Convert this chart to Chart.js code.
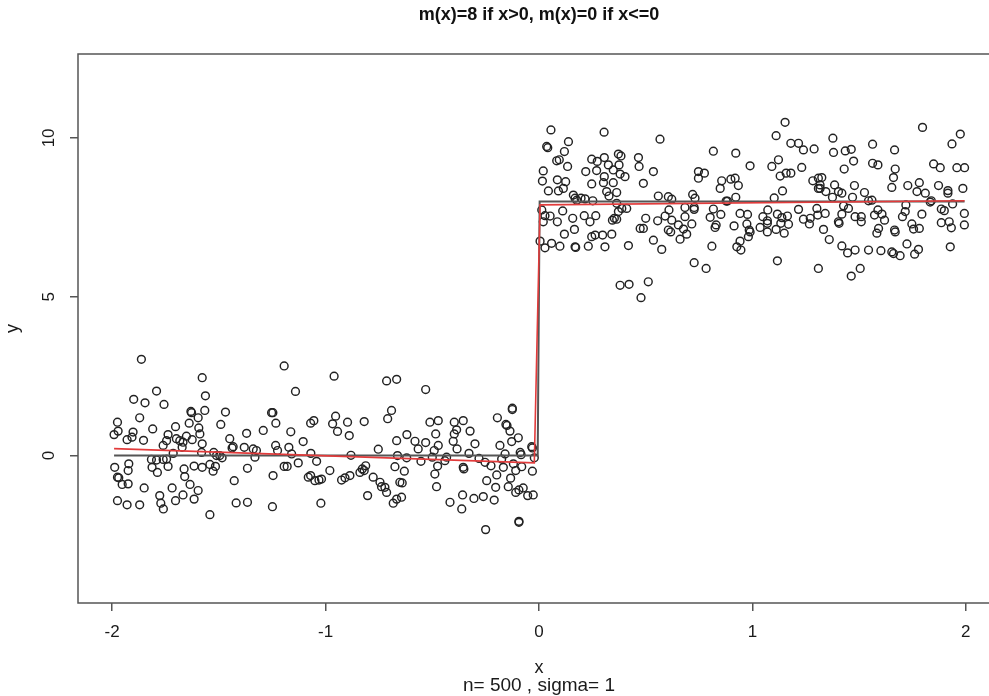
<!DOCTYPE html>
<html><head><meta charset="utf-8">
<script src="https://cdn.jsdelivr.net/npm/chart.js@4.4.1/dist/chart.umd.min.js"></script>
<style>
html,body{margin:0;padding:0;background:#fff;overflow:hidden;width:989px;height:696px}
#wrap{position:absolute;left:0;top:0;width:1078px;height:696px}
canvas{display:block}
</style>
</head><body><div id="wrap"><canvas id="c" width="1078" height="696" style="width:1078px;height:696px"></canvas></div>
<script>
// ---- data ----
const chartTitle = 'm(x)=8 if x>0, m(x)=0 if x<=0';
const xTitle = 'x';
const subTitle = 'n= 500 , sigma= 1';
const yTitle = 'y';
const xTicks = [-2, -1, 0, 1, 2];
const yTicks = [0, 5, 10];

// x <= 0 : band 1 (x about -2 .. -1.35)
const xBand1 = [-1.863,-1.578,-1.792,-1.899,-1.846,-1.757,-1.563,-1.631,-1.628,-1.566,
 -1.469,-1.597,-1.871,-1.975,-1.491,-1.639,-1.703,-1.810,-1.594,-1.972,
 -1.991,-1.902,-1.907,-1.930,-1.853,-1.738,-1.699,-1.652,-1.589,-1.625,
 -1.683,-1.745,-1.761,-1.668,-1.672,-1.578,-1.449,-1.433,-1.438,-1.370,
 -1.381,-1.714,-1.581,-1.524,-1.511,-1.496,-1.485,-1.816,-1.792,-1.761,
 -1.745,-1.813,-1.788,-1.738,-1.988,-1.922,-1.925,-1.975,-1.969,-1.953,
 -1.925,-1.663,-1.660,-1.616,-1.578,-1.542,-1.516,-1.527,-1.428,-1.366,
 -1.635,-1.597,-1.850,-1.719,-1.777,-1.668,-1.703,-1.616,-1.975,-1.930,
 -1.871,-1.772,-1.760,-1.542,-1.419,-1.366];
const yBand1 = [3.03,2.45,2.03,1.77,1.66,1.61,1.88,1.39,1.35,1.42,
 1.37,1.19,1.19,1.05,0.98,1.02,0.91,0.84,0.87,0.77,
 0.66,0.74,0.58,0.50,0.48,0.66,0.53,0.61,0.68,0.50,
 0.47,0.47,0.32,0.42,0.26,0.37,0.53,0.28,0.24,0.70,
 0.26,0.07,0.10,0.10,0.00,0.00,-0.07,-0.12,-0.14,-0.12,
 -0.11,-0.37,-0.53,-0.34,-0.37,-0.26,-0.47,-0.68,-0.70,-0.91,
 -0.89,-0.42,-0.66,-0.33,-0.37,-0.28,-0.34,-0.49,-0.79,-0.40,
 -0.91,-1.10,-1.02,-1.02,-1.26,-1.24,-1.42,-1.37,-1.42,-1.55,
 -1.55,-1.50,-1.68,-1.86,-1.49,-1.47];

// band 2 (x about -1.35 .. -0.65)
const xBand2 = [-1.194,-0.960,-1.141,-0.714,-0.667,-1.253,-1.247,-1.233,-1.070,-1.055,
 -0.953,-0.967,-0.897,-0.819,-0.691,-0.709,-0.944,-0.889,-1.292,-1.163,
 -1.105,-1.234,-1.225,-1.172,-1.159,-1.339,-1.324,-1.331,-1.069,-0.881,
 -0.753,-0.667,-0.663,-1.042,-1.128,-1.194,-1.180,-1.246,-1.081,-1.070,
 -1.050,-1.031,-1.019,-0.980,-0.925,-0.909,-0.886,-0.839,-0.828,-0.812,
 -0.819,-0.777,-0.745,-0.738,-0.722,-0.714,-0.675,-0.652,-0.803,-1.249,
 -1.022,-0.683,-0.667];
const yBand2 = [2.82,2.50,2.02,2.35,2.40,1.35,1.35,1.02,1.02,1.10,
 1.24,1.00,1.05,1.07,1.42,1.16,0.76,0.63,0.79,0.75,
 0.44,0.32,0.16,0.26,0.05,0.21,0.16,-0.05,0.07,0.01,
 0.20,0.47,0.00,-0.18,-0.23,-0.34,-0.34,-0.63,-0.68,-0.63,
 -0.79,-0.77,-0.74,-0.47,-0.77,-0.70,-0.63,-0.53,-0.42,-0.32,
 -0.47,-0.68,-0.84,-0.98,-1.00,-1.16,-0.35,-0.84,-1.26,-1.61,
 -1.50,-1.50,-1.37];

// band 3 (x about -0.65 .. 0)
const xBand3 = [-0.531,-0.125,-0.125,-0.511,-0.472,-0.397,-0.355,-0.386,-0.397,-0.323,
 -0.195,-0.155,-0.150,-0.136,-0.097,-0.128,-0.619,-0.581,-0.531,-0.566,
 -0.484,-0.472,-0.491,-0.402,-0.384,-0.300,-0.328,-0.183,-0.159,-0.175,
 -0.088,-0.084,-0.034,-0.031,-0.022,-0.620,-0.500,-0.433,-0.441,-0.553,
 -0.281,-0.253,-0.225,-0.167,-0.120,-0.081,-0.631,-0.475,-0.355,-0.352,
 -0.198,-0.488,-0.109,-0.031,-0.641,-0.480,-0.245,-0.203,-0.133,-0.144,
 -0.109,-0.094,-0.074,-0.053,-0.027,-0.644,-0.417,-0.358,-0.362,-0.305,
 -0.261,-0.210,-0.250,-0.094,-0.094];
const yBand3 = [2.08,1.49,1.45,1.05,1.10,1.05,1.10,0.81,0.68,0.77,
 1.19,0.98,0.95,0.77,0.56,0.44,0.66,0.45,0.41,0.21,
 0.68,0.32,0.16,0.45,0.21,0.37,0.07,0.32,0.05,-0.11,
 0.10,0.03,0.28,0.24,-0.07,-0.07,-0.05,-0.05,-0.16,-0.18,
 -0.09,-0.21,-0.32,-0.37,-0.26,-0.35,-0.49,-0.33,-0.37,-0.42,
 -0.61,-0.58,-0.47,-0.49,-0.86,-0.98,-0.79,-1.00,-0.71,-0.98,
 -1.16,-1.08,-1.02,-1.26,-1.24,-1.31,-1.47,-1.24,-1.68,-1.35,
 -1.29,-1.40,-2.33,-2.07,-2.10];

// x > 0 : band 4 (x about 0 .. 0.63)
const xBand4 = [0.056,0.305,0.567,0.138,0.036,0.041,0.119,0.083,0.095,0.134,
 0.020,0.016,0.086,0.125,0.044,0.091,0.114,0.161,0.169,0.197,
 0.216,0.177,0.252,0.219,0.247,0.270,0.273,0.306,0.325,0.348,
 0.372,0.384,0.375,0.380,0.403,0.306,0.302,0.348,0.247,0.317,
 0.364,0.328,0.466,0.469,0.536,0.489,0.559,0.606,0.622,0.364,
 0.388,0.411,0.372,0.013,0.028,0.020,0.052,0.111,0.086,0.158,
 0.212,0.266,0.239,0.353,0.364,0.344,0.500,0.556,0.591,0.609,
 0.622,0.166,0.119,0.474,0.489,0.606,0.617,0.247,0.263,0.298,
 0.341,0.005,0.028,0.059,0.098,0.169,0.172,0.231,0.309,0.419,
 0.536,0.575,0.380,0.422,0.512,0.478];
const yBand4 = [10.25,10.18,9.96,9.88,9.73,9.69,9.57,9.28,9.31,9.10,
 8.96,8.64,8.68,8.62,8.33,8.33,8.41,8.20,8.10,8.10,
 8.08,8.04,8.02,8.94,9.33,8.97,9.26,9.38,9.15,8.99,
 9.49,9.43,9.15,8.86,8.78,8.78,8.59,8.59,8.55,8.31,
 8.28,8.17,9.38,9.10,8.94,8.57,8.17,8.15,8.07,7.94,
 7.78,7.78,7.68,7.73,7.55,7.36,7.54,7.70,7.36,7.47,
 7.55,7.55,7.36,7.47,7.44,7.41,7.47,7.39,7.54,7.73,
 7.41,7.12,6.97,7.15,7.15,7.10,7.04,6.89,6.94,6.94,
 6.97,6.75,6.54,6.68,6.59,6.57,6.55,6.59,6.57,6.61,
 6.78,6.49,5.36,5.39,5.47,4.97];

// band 5 (x about 0.63 .. 1.31)
const xBand5 = [1.153,1.111,1.180,1.216,1.239,1.289,0.817,0.922,0.989,1.091,
 1.122,0.747,0.775,0.747,0.856,0.849,0.899,0.919,0.934,0.922,
 1.130,1.158,1.180,1.231,1.283,1.309,1.309,1.141,1.102,0.720,
 0.731,0.877,0.883,0.684,0.727,0.727,0.817,0.653,0.677,0.692,
 0.661,0.684,0.716,0.802,0.852,0.830,0.825,0.942,0.977,0.914,
 0.974,0.985,0.989,0.981,0.942,0.927,0.946,1.036,1.049,1.072,
 1.070,1.070,1.070,1.111,1.117,1.138,1.164,1.133,1.149,1.169,
 1.216,1.239,1.271,1.267,1.302,0.810,0.727,0.783,1.117,1.309];
const yBand5 = [10.49,10.07,9.83,9.83,9.62,9.65,9.58,9.52,9.12,9.10,
 9.31,8.94,8.89,8.73,8.65,8.41,8.70,8.73,8.50,8.13,
 8.80,8.89,8.89,9.07,8.65,8.73,8.41,8.33,8.11,8.22,
 8.10,8.01,8.01,7.81,7.81,7.75,7.76,7.26,7.13,6.97,
 6.81,7.52,7.29,7.50,7.59,7.26,7.18,7.62,7.59,7.23,
 7.29,7.10,7.04,6.89,6.75,6.57,6.47,7.18,7.52,7.73,
 7.39,7.31,7.04,7.12,7.60,7.49,7.54,7.31,7.00,7.28,
 7.75,7.44,7.47,7.29,7.78,6.59,6.07,5.89,6.13,5.89];

// band 6 (x about 1.31 .. 2)
const xBand6 = [1.797,1.974,1.935,1.377,1.380,1.435,1.463,1.563,1.666,1.474,
 1.430,1.563,1.588,1.669,1.661,1.653,1.849,1.880,1.958,1.994,
 1.325,1.317,1.317,1.344,1.385,1.403,1.419,1.375,1.478,1.469,
 1.525,1.544,1.560,1.728,1.782,1.771,1.810,1.838,1.833,1.872,
 1.916,1.916,1.938,1.986,1.306,1.341,1.427,1.450,1.419,1.403,
 1.406,1.481,1.510,1.510,1.572,1.588,1.607,1.619,1.591,1.583,
 1.666,1.669,1.719,1.716,1.703,1.747,1.755,1.782,1.794,1.885,
 1.899,1.885,1.922,1.932,1.993,1.993,1.333,1.360,1.419,1.446,
 1.481,1.544,1.602,1.653,1.661,1.692,1.724,1.760,1.778,1.927,
 1.505,1.463];
const yBand6 = [10.33,10.12,9.81,9.99,9.54,9.59,9.64,9.80,9.62,9.27,
 9.02,9.20,9.15,9.02,8.75,8.44,9.18,9.06,9.06,9.06,
 8.75,8.52,8.41,8.31,8.52,8.31,8.26,8.13,8.50,8.13,
 8.28,8.02,8.04,8.50,8.59,8.31,8.26,8.02,7.98,8.50,
 8.34,8.26,7.92,8.41,7.57,7.62,7.86,7.78,7.60,7.36,
 7.31,7.52,7.52,7.36,7.57,7.73,7.60,7.41,7.15,7.00,
 7.10,7.04,7.89,7.68,7.52,7.29,7.13,7.15,7.60,7.76,
 7.71,7.33,7.36,7.17,7.62,7.26,7.12,6.80,6.60,6.38,
 6.47,6.47,6.45,6.41,6.36,6.29,6.66,6.34,6.49,6.57,
 5.89,5.65];

// true regression function m(x) (black) and fitted curve (red)
const trueX = [-1.991, -0.006, 0.003, 1.994];
const trueY = [0, 0, 8, 8];
const fitX  = [-1.991, -0.022, 0.005, 1.994];
const fitY  = [0.22, -0.23, 7.89, 8.02];

// ---- build chart ----
function pairs(xs, ys){ const n=Math.min(xs.length, ys.length); const out=[]; for(let i=0;i<n;i++) out.push({x:xs[i], y:ys[i]}); return out; }
const points = [].concat(
  pairs(xBand1,yBand1), pairs(xBand2,yBand2), pairs(xBand3,yBand3),
  pairs(xBand4,yBand4), pairs(xBand5,yBand5), pairs(xBand6,yBand6));

const FF = "'Liberation Sans',Arial,Helvetica,sans-serif";
const AX = '#555';
const TXT = '#1a1a1a';

const boxPlugin = {
  id: 'box',
  beforeDatasetsDraw(chart){
    const {ctx, chartArea:a} = chart;
    ctx.save();
    ctx.strokeStyle = AX; ctx.lineWidth = 1.5;
    ctx.strokeRect(a.left, a.top, a.right - a.left, a.bottom - a.top);
    ctx.restore();
  }
};

new Chart(document.getElementById('c'), {
  type: 'scatter',
  data: {
    datasets: [
      { type:'line', label:'fit', data: pairs(fitX, fitY), borderColor:'#e23b3b', borderWidth:1.6,
        pointRadius:0, fill:false, tension:0, order:0, xAxisID:'x', yAxisID:'y' },
      { type:'line', label:'m(x)', data: pairs(trueX, trueY), borderColor:'#555555', borderWidth:2,
        pointRadius:0, fill:false, tension:0, order:1, xAxisID:'x', yAxisID:'y' },
      { label:'y', data: points, showLine:false, pointStyle:'circle', pointRadius:3.9,
        pointBorderWidth:1.45, borderColor:'#222222', backgroundColor:'rgba(0,0,0,0)', order:2,
        xAxisID:'x', yAxisID:'y' }
    ]
  },
  options: {
    responsive:false, animation:false, devicePixelRatio:1,
    layout:{ padding:{ left:0, right:78, top:0, bottom:0 } },
    plugins:{ legend:{ display:false }, tooltip:{ enabled:false } },
    scales:{
      x:{ type:'linear', position:'bottom', weight:0, min:-2.16, max:2.16,
        afterBuildTicks(s){ s.ticks = xTicks.map(v => ({value:v})); },
        afterFit(s){ s.height = 75; },
        grid:{ drawOnChartArea:false, drawTicks:true, tickLength:8, color:AX, lineWidth:1.5 },
        border:{ display:false },
        ticks:{ color:TXT, font:{ family:FF, size:17 }, padding:11, maxRotation:0, minRotation:0, autoSkip:false },
        title:{ display:true, text:xTitle, color:TXT,
          font:{ family:FF, size:18, lineHeight:'18px' }, padding:{ top:0, bottom:1 } }
      },
      sub:{ type:'linear', position:'bottom', weight:5, min:-2.16, max:2.16,
        afterFit(s){ s.height = 18; },
        grid:{ display:false }, border:{ display:false }, ticks:{ display:false },
        title:{ display:true, text:subTitle, color:TXT,
          font:{ family:FF, size:19, lineHeight:'20px' }, padding:{ top:0, bottom:0 } }
      },
      top:{ type:'linear', position:'top', min:-2.16, max:2.16,
        afterFit(s){ s.height = 54; },
        grid:{ display:false }, border:{ display:false }, ticks:{ display:false },
        title:{ display:true, text:chartTitle, color:'#111',
          font:{ family:FF, size:18, weight:'bold', lineHeight:'22px' }, padding:{ top:4, bottom:0 } }
      },
      y:{ type:'linear', position:'left', min:-4.64, max:12.64,
        afterBuildTicks(s){ s.ticks = yTicks.map(v => ({value:v})); },
        afterFit(s){ s.width = 78; },
        grid:{ drawOnChartArea:false, drawTicks:true, tickLength:8, color:AX, lineWidth:1.5 },
        border:{ display:false },
        ticks:{ color:TXT, font:{ family:FF, size:17 }, padding:11, minRotation:90, maxRotation:90, crossAlign:'center', autoSkip:false },
        title:{ display:true, text:yTitle, color:TXT, font:{ family:FF, size:18, lineHeight:'18px' }, padding:{ top:4, bottom:0 } }
      }
    }
  },
  plugins:[boxPlugin]
});
</script>
</body></html>
